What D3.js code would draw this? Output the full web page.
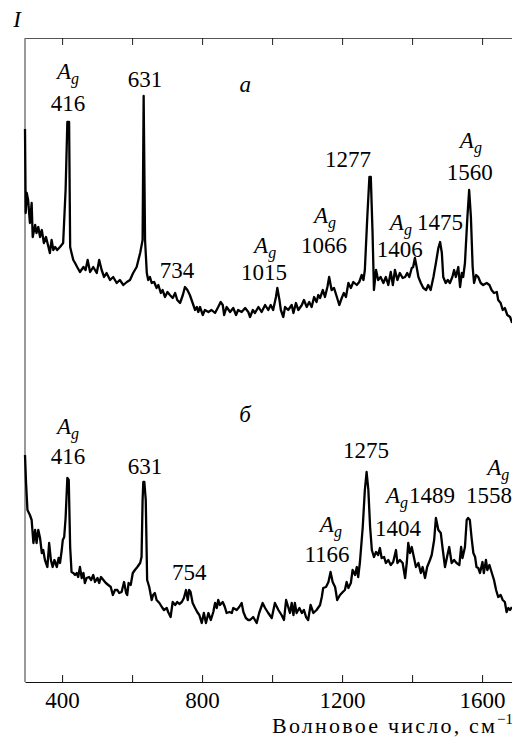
<!DOCTYPE html>
<html><head><meta charset="utf-8">
<script src="https://cdn.jsdelivr.net/npm/d3@7"></script>
</head><body style="margin:0;background:#fff">
<svg id="chart" width="512" height="740" style="display:block;font-family:'Liberation Serif'"></svg>
<script>
// Raman spectrum "a" (upper curve): [wavenumber cm^-1, intensity a.u.]
const spectrumA = [[294,553],[296,469],[299,489],[303,482],[308,459],[313,479],[316,445],[323,457],[327,449],[332,455],[337,445],[342,452],[348,439],[354,445],[361,435],[365,429],[370,442],[375,432],[380,435],[386,432],[394,435],[403,439],[410,492],[415,560],[420,560],[423,435],[427,429],[432,422],[437,419],[443,415],[451,410],[461,415],[467,412],[473,422],[480,410],[489,415],[499,409],[506,422],[513,412],[520,405],[527,409],[537,402],[546,405],[556,399],[565,402],[575,397],[585,400],[594,402],[603,409],[613,415],[623,429],[630,442],[633,586],[637,442],[642,409],[646,402],[651,405],[656,399],[663,400],[670,394],[675,397],[682,389],[687,392],[694,385],[701,390],[708,387],[716,384],[723,389],[729,382],[737,379],[745,387],[751,395],[758,392],[765,387],[773,379],[780,372],[785,375],[789,370],[794,375],[802,367],[808,372],[818,370],[827,372],[837,369],[846,375],[853,380],[859,377],[863,367],[870,375],[880,370],[889,374],[897,367],[903,372],[913,370],[923,374],[932,370],[937,365],[945,372],[951,369],[961,375],[970,370],[980,377],[989,372],[996,377],[1003,372],[1011,385],[1015,394],[1021,382],[1025,372],[1032,365],[1037,375],[1046,372],[1056,377],[1061,369],[1068,379],[1075,372],[1085,377],[1091,382],[1099,375],[1106,380],[1113,375],[1120,385],[1127,380],[1132,387],[1137,384],[1145,392],[1151,385],[1158,395],[1163,405],[1170,392],[1177,394],[1185,385],[1192,377],[1199,384],[1205,389],[1211,385],[1218,399],[1225,394],[1232,400],[1242,397],[1249,400],[1256,407],[1261,402],[1265,412],[1272,465],[1278,505],[1282,505],[1287,449],[1291,392],[1297,412],[1303,402],[1310,405],[1318,399],[1325,405],[1332,397],[1339,410],[1345,397],[1351,412],[1358,402],[1365,409],[1373,404],[1380,405],[1386,409],[1392,405],[1399,414],[1403,415],[1408,424],[1413,415],[1418,405],[1425,399],[1432,394],[1440,392],[1446,397],[1453,392],[1461,405],[1468,419],[1475,434],[1480,440],[1485,429],[1489,405],[1496,399],[1502,402],[1508,399],[1515,405],[1520,412],[1525,405],[1532,415],[1537,395],[1542,409],[1546,405],[1551,419],[1558,465],[1563,492],[1568,465],[1573,415],[1577,399],[1583,407],[1589,405],[1596,399],[1603,397],[1613,399],[1621,397],[1627,392],[1634,389],[1642,390],[1646,382],[1653,379],[1659,372],[1665,374],[1672,367],[1680,365],[1685,360],[1688,362]];

// Raman spectrum "б" (lower curve)
const spectrumB = [[294,227],[297,199],[301,172],[308,167],[313,162],[318,139],[323,152],[327,139],[332,152],[337,144],[342,129],[346,132],[351,122],[358,115],[363,139],[368,122],[373,115],[378,122],[385,115],[390,124],[394,119],[399,132],[402,142],[406,145],[410,164],[415,204],[419,202],[423,135],[427,110],[432,109],[437,107],[442,109],[446,105],[451,115],[456,104],[461,109],[465,99],[470,104],[477,105],[483,102],[489,107],[494,100],[501,104],[506,99],[511,105],[518,102],[525,99],[532,97],[539,95],[545,87],[551,92],[558,92],[563,89],[570,90],[577,100],[583,89],[586,87],[590,99],[596,97],[602,109],[608,112],[615,115],[623,119],[627,125],[630,182],[632,200],[635,200],[639,182],[643,102],[649,95],[656,82],[660,87],[665,89],[670,82],[678,79],[685,75],[691,72],[699,74],[703,70],[710,65],[716,80],[723,77],[729,80],[735,78],[742,80],[748,84],[754,92],[759,82],[763,92],[767,90],[773,79],[780,74],[786,70],[792,67],[799,59],[805,69],[811,59],[818,69],[825,62],[832,70],[837,79],[842,74],[846,82],[851,77],[859,80],[865,75],[870,69],[878,70],[885,69],[889,74],[899,72],[906,75],[913,79],[918,70],[925,64],[932,62],[937,62],[946,65],[956,59],[963,69],[973,79],[980,74],[989,69],[999,64],[1008,79],[1018,72],[1027,67],[1034,62],[1040,82],[1046,75],[1051,69],[1056,79],[1061,67],[1065,79],[1070,69],[1078,74],[1085,69],[1091,72],[1097,65],[1103,62],[1110,77],[1118,69],[1127,72],[1137,77],[1142,85],[1146,94],[1154,95],[1161,100],[1167,110],[1173,100],[1180,95],[1186,82],[1194,87],[1202,90],[1208,92],[1213,100],[1218,94],[1225,99],[1230,112],[1237,107],[1242,115],[1246,105],[1251,120],[1259,155],[1265,192],[1270,210],[1275,192],[1280,155],[1285,132],[1291,125],[1297,130],[1303,127],[1308,134],[1313,124],[1320,125],[1325,119],[1332,122],[1339,117],[1346,120],[1354,132],[1358,119],[1365,122],[1373,119],[1380,104],[1385,120],[1389,139],[1394,129],[1399,135],[1405,125],[1411,115],[1418,119],[1425,109],[1430,115],[1437,104],[1443,115],[1451,122],[1456,127],[1463,142],[1468,164],[1475,152],[1482,149],[1487,134],[1494,115],[1501,127],[1506,135],[1513,119],[1520,122],[1527,119],[1535,117],[1540,135],[1544,124],[1551,135],[1556,162],[1560,164],[1565,162],[1570,144],[1575,129],[1580,125],[1584,115],[1589,114],[1594,109],[1601,120],[1605,109],[1611,122],[1615,112],[1621,117],[1627,110],[1634,102],[1640,92],[1646,85],[1653,87],[1659,82],[1665,80],[1670,70],[1675,74],[1680,72],[1685,75]];

const tickValues = [400, 600, 800, 1000, 1200, 1400, 1600];
const tickLabels = [400, 800, 1200, 1600];

// Peak annotations: text, wavenumber, intensity level (label anchor)
const peakLabels = [
  ["Ag", 417, 603], ["416", 417, 571], ["631", 637, 595],
  ["734", 728, 404], ["Ag", 980, 429], ["1015", 977, 402],
  ["Ag", 1151, 459], ["1066", 1148, 429], ["1277", 1217, 515],
  ["Ag", 1368, 452], ["1475", 1480, 452], ["1406", 1365, 425],
  ["Ag", 1568, 534], ["1560", 1565, 502],
  ["Ag", 417, 248], ["416", 417, 218], ["631", 637, 208],
  ["754", 763, 102], ["Ag", 1168, 150], ["1166", 1157, 120],
  ["1275", 1268, 224], ["Ag", 1357, 179], ["1489", 1457, 179],
  ["1404", 1360, 146], ["Ag", 1646, 207], ["1558", 1620, 179]
];
const curveNames = [["a", 923, 590], ["б", 923, 260]];
const yTitle = "I";
const xTitle = "Волновое число, см";
const xTitleSup = "−1";

const FONT = "Liberation Serif";
const svg = d3.select("#chart");
const x = d3.scaleLinear().domain([294, 1700]).range([25, 25 + 1406 * 0.35]);
const y = d3.scaleLinear().domain([0, 644]).range([682, 38]);

function serifText(sel, size, italic) {
  return sel.attr("font-family", FONT).style("font-family", `"${FONT}"`)
    .attr("font-size", size).attr("font-style", italic ? "italic" : "normal").attr("fill", "#000");
}

// Frame: left line
svg.append("line")
  .attr("x1", x(294)).attr("x2", x(294))
  .attr("y1", y(0)).attr("y2", y(644))
  .attr("stroke", "#555").attr("stroke-width", 1.2);

// Top axis (ticks inward)
const topAxis = svg.append("g").attr("transform", `translate(0,${y(644)})`)
  .call(d3.axisTop(x).tickValues(tickValues).tickSize(-7).tickSizeOuter(0).tickFormat(""));
topAxis.select(".domain").attr("stroke", "#555").attr("stroke-width", 1.2);
topAxis.selectAll(".tick line").attr("stroke", "#222").attr("stroke-width", 1);

// Bottom axis (ticks inward)
const botAxis = svg.append("g").attr("transform", `translate(0,${y(0)})`)
  .call(d3.axisBottom(x).tickValues(tickValues).tickSize(-7).tickSizeOuter(0).tickPadding(10)
    .tickFormat(d => tickLabels.includes(d) ? String(d) : ""));
botAxis.attr("font-family", FONT).attr("font-size", 23);
botAxis.select(".domain").attr("stroke", "#111").attr("stroke-width", 1.2);
botAxis.selectAll(".tick line").attr("stroke", "#111").attr("stroke-width", 1);
serifText(botAxis.selectAll(".tick text"), 23, false);

// Spectra
const line = d3.line().x(d => x(d[0])).y(d => y(d[1]));
[spectrumA, spectrumB].forEach(s => {
  svg.append("path").datum(s).attr("d", line)
    .attr("fill", "none").attr("stroke", "#000").attr("stroke-width", 2.3)
    .attr("stroke-linejoin", "round");
});

// Peak labels
peakLabels.forEach(([t, wn, lv]) => {
  const txt = serifText(svg.append("text"), 23, false)
    .attr("x", x(wn)).attr("y", y(lv))
    .attr("text-anchor", "middle");
  if (t === "Ag") {
    txt.append("tspan").attr("font-style", "italic").text("A");
    txt.append("tspan").attr("font-style", "italic").attr("font-size", 16).attr("dy", 5).text("g");
  } else {
    txt.text(t);
  }
});

// Curve names
curveNames.forEach(([t, wn, lv]) => {
  serifText(svg.append("text"), 23, true).attr("x", x(wn)).attr("y", y(lv))
    .attr("text-anchor", "middle").text(t);
});

// Axis titles
serifText(svg.append("text"), 23, true).attr("x", 17).attr("y", 27)
  .attr("text-anchor", "middle").text(yTitle);

const xt = serifText(svg.append("text"), 22, false).attr("x", 272).attr("y", 733);
xt.append("tspan").attr("textLength", 223).attr("lengthAdjust", "spacing").text(xTitle);
xt.append("tspan").attr("x", 497).attr("dy", -9).attr("font-size", 15).text(xTitleSup);
</script>
</body></html>
